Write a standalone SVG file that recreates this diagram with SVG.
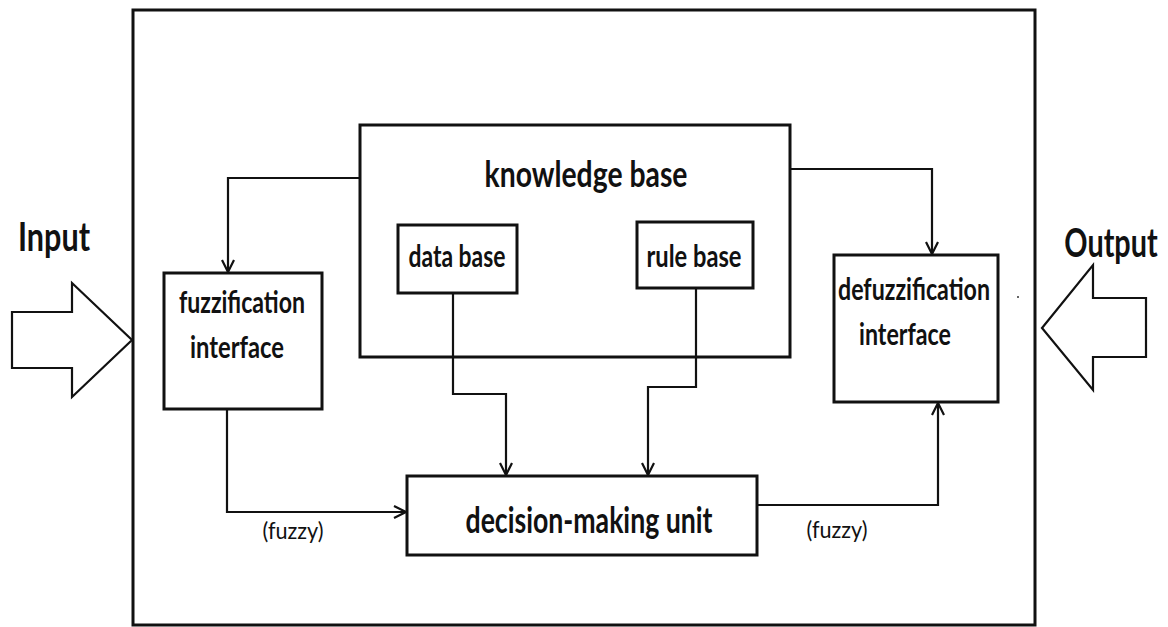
<svg xmlns="http://www.w3.org/2000/svg" width="1168" height="627" viewBox="0 0 1168 627">
<style>
.box{fill:#fff;stroke:#111;stroke-width:3}
.con{fill:none;stroke:#111;stroke-width:2.2}
.big{fill:none;stroke:#111;stroke-width:2.2;stroke-linejoin:miter}
text{font-family:"Lato","Open Sans","Liberation Sans",sans-serif;fill:#111;text-anchor:middle}
.t1{font-size:30px;font-weight:bold}
.t2{font-size:37px;font-weight:bold}
.t3{font-size:24px;font-weight:normal}
.t4{font-size:40px;font-weight:bold}
</style>
<defs>
<marker id="ah" viewBox="0 0 14 14" refX="13" refY="7" markerWidth="14" markerHeight="14" markerUnits="userSpaceOnUse" orient="auto">
<path d="M1,1 L13,7 L1,13" fill="none" stroke="#111" stroke-width="2.2"/>
</marker>
</defs>
<rect width="1168" height="627" fill="#fff"/>
<g id="system">
<rect x="133" y="10" width="902" height="615" fill="none" stroke="#111" stroke-width="3"/>
</g>
<g id="input">
<path class="big" d="M12,312 L72,312 L72,283 L132,340 L72,397 L72,368 L12,368 Z"/>
<text class="t4" x="54" y="251" textLength="72" lengthAdjust="spacingAndGlyphs">Input</text>
</g>
<g id="output">
<path class="big" d="M1146,298 L1093,298 L1093,265 L1042,328 L1093,390 L1093,357 L1146,357 Z"/>
<text class="t4" transform="translate(1111,257) scale(0.72,1)" x="0" y="0">Output</text>
<circle cx="1018" cy="297" r="1" fill="#333"/>
</g>
<g id="knowledge-base">
<rect class="box" x="360" y="125" width="430" height="232"/>
<text class="t2" x="586" y="187" textLength="203" lengthAdjust="spacingAndGlyphs">knowledge base</text>
</g>
<g id="data-base">
<rect class="box" x="398" y="225" width="119" height="68"/>
<text class="t1" x="457" y="267" textLength="97" lengthAdjust="spacingAndGlyphs">data base</text>
</g>
<g id="rule-base">
<rect class="box" x="637" y="222" width="116" height="66"/>
<text class="t1" x="694" y="267" textLength="95" lengthAdjust="spacingAndGlyphs">rule base</text>
</g>
<g id="fuzzification">
<rect class="box" x="164" y="273" width="158" height="136"/>
<text class="t1" x="242" y="313" textLength="126" lengthAdjust="spacingAndGlyphs">fuzzification</text>
<text class="t1" x="237" y="358" textLength="94" lengthAdjust="spacingAndGlyphs">interface</text>
</g>
<g id="defuzzification">
<rect class="box" x="834" y="255" width="164" height="147"/>
<text class="t1" x="914" y="300" textLength="152" lengthAdjust="spacingAndGlyphs">defuzzification</text>
<text class="t1" x="905" y="345" textLength="92" lengthAdjust="spacingAndGlyphs">interface</text>
</g>
<g id="decision-making">
<rect class="box" x="407" y="476" width="350" height="79"/>
<text class="t2" x="589" y="533" textLength="247" lengthAdjust="spacingAndGlyphs">decision-making unit</text>
</g>
<g id="connectors">
<path class="con" d="M360,178 L228,178 L228,272" marker-end="url(#ah)"/>
<path class="con" d="M790,169 L932,169 L932,254" marker-end="url(#ah)"/>
<path class="con" d="M227,409 L227,512 L406,512" marker-end="url(#ah)"/>
<path class="con" d="M453,293 L453,394 L506,394 L506,475" marker-end="url(#ah)"/>
<path class="con" d="M696,288 L696,387 L648,387 L648,475" marker-end="url(#ah)"/>
<path class="con" d="M757,505 L938,505 L938,403" marker-end="url(#ah)"/>
<text class="t3" x="293" y="539" textLength="61" lengthAdjust="spacingAndGlyphs">(fuzzy)</text>
<text class="t3" x="837" y="538" textLength="61" lengthAdjust="spacingAndGlyphs">(fuzzy)</text>
</g>
</svg>
